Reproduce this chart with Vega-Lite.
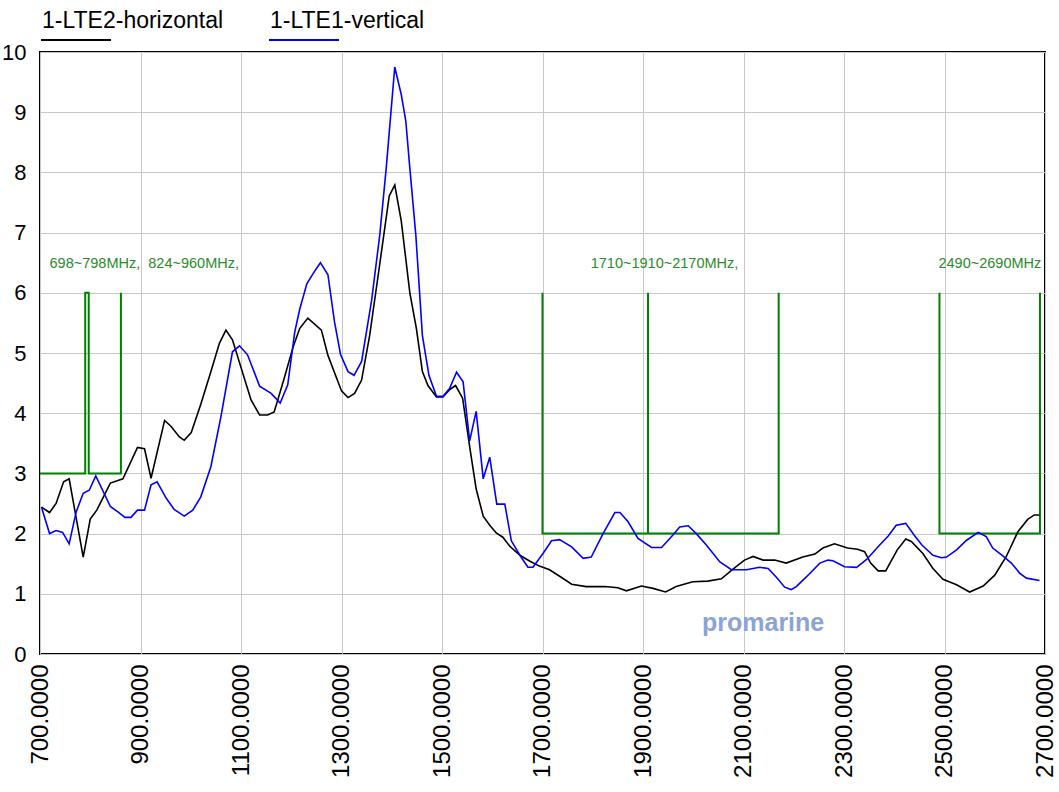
{
  "$schema": "https://vega.github.io/schema/vega-lite/v6.json",
  "width": 1005,
  "height": 602,
  "autosize": {"type": "none"},
  "padding": {"left": 40, "top": 52, "right": 14, "bottom": 138},
  "background": "white",
  "config": {
    "view": {"stroke": "#000000", "strokeWidth": 2},
    "font": "Liberation Sans",
    "axis": {"labelFont": "Liberation Sans", "labelColor": "#000000", "gridColor": "#c8c8c8", "gridWidth": 1, "ticks": false, "domain": false, "title": null, "labelFlush": false, "labelOverlap": false}
  },
  "datasets": {
    "bands": [
      {"seg": "a", "o": 1, "f": 700, "v": 3},
      {"seg": "a", "o": 2, "f": 790, "v": 3},
      {"seg": "a", "o": 3, "f": 790, "v": 6},
      {"seg": "a", "o": 4, "f": 797, "v": 6},
      {"seg": "a", "o": 5, "f": 797, "v": 3},
      {"seg": "a", "o": 6, "f": 861, "v": 3},
      {"seg": "a", "o": 7, "f": 861, "v": 6},
      {"seg": "b", "o": 1, "f": 1700, "v": 6},
      {"seg": "b", "o": 2, "f": 1700, "v": 2},
      {"seg": "b", "o": 3, "f": 2170, "v": 2},
      {"seg": "b", "o": 4, "f": 2170, "v": 6},
      {"seg": "c", "o": 1, "f": 1910, "v": 2},
      {"seg": "c", "o": 2, "f": 1910, "v": 6},
      {"seg": "d", "o": 1, "f": 2490, "v": 6},
      {"seg": "d", "o": 2, "f": 2490, "v": 2},
      {"seg": "d", "o": 3, "f": 2690, "v": 2},
      {"seg": "d", "o": 4, "f": 2690, "v": 6}
    ],
    "notes": [
      {"f": 719, "v": 6.48, "t": "698~798MHz,\u00a0 824~960MHz,"},
      {"f": 1796, "v": 6.48, "t": "1710~1910~2170MHz,"},
      {"f": 2488, "v": 6.48, "t": "2490~2690MHz"}
    ],
    "mark": [
      {"f": 2139, "v": 0.515, "t": "promarine"}
    ],
    "series": [
      {"s": "1-LTE2-horizontal", "f": 703, "v": 2.44},
      {"s": "1-LTE2-horizontal", "f": 719, "v": 2.35},
      {"s": "1-LTE2-horizontal", "f": 732, "v": 2.50},
      {"s": "1-LTE2-horizontal", "f": 747, "v": 2.86},
      {"s": "1-LTE2-horizontal", "f": 758, "v": 2.91},
      {"s": "1-LTE2-horizontal", "f": 786, "v": 1.61},
      {"s": "1-LTE2-horizontal", "f": 800, "v": 2.24},
      {"s": "1-LTE2-horizontal", "f": 813, "v": 2.39},
      {"s": "1-LTE2-horizontal", "f": 840, "v": 2.84},
      {"s": "1-LTE2-horizontal", "f": 865, "v": 2.91},
      {"s": "1-LTE2-horizontal", "f": 894, "v": 3.43},
      {"s": "1-LTE2-horizontal", "f": 908, "v": 3.41},
      {"s": "1-LTE2-horizontal", "f": 921, "v": 2.92},
      {"s": "1-LTE2-horizontal", "f": 948, "v": 3.88},
      {"s": "1-LTE2-horizontal", "f": 961, "v": 3.78},
      {"s": "1-LTE2-horizontal", "f": 977, "v": 3.61},
      {"s": "1-LTE2-horizontal", "f": 987, "v": 3.55},
      {"s": "1-LTE2-horizontal", "f": 1001, "v": 3.68},
      {"s": "1-LTE2-horizontal", "f": 1020, "v": 4.15},
      {"s": "1-LTE2-horizontal", "f": 1040, "v": 4.69},
      {"s": "1-LTE2-horizontal", "f": 1057, "v": 5.16},
      {"s": "1-LTE2-horizontal", "f": 1070, "v": 5.38},
      {"s": "1-LTE2-horizontal", "f": 1083, "v": 5.22},
      {"s": "1-LTE2-horizontal", "f": 1120, "v": 4.22},
      {"s": "1-LTE2-horizontal", "f": 1137, "v": 3.97},
      {"s": "1-LTE2-horizontal", "f": 1153, "v": 3.97},
      {"s": "1-LTE2-horizontal", "f": 1166, "v": 4.02},
      {"s": "1-LTE2-horizontal", "f": 1185, "v": 4.55},
      {"s": "1-LTE2-horizontal", "f": 1204, "v": 5.11},
      {"s": "1-LTE2-horizontal", "f": 1217, "v": 5.41},
      {"s": "1-LTE2-horizontal", "f": 1233, "v": 5.58},
      {"s": "1-LTE2-horizontal", "f": 1260, "v": 5.38},
      {"s": "1-LTE2-horizontal", "f": 1273, "v": 4.96},
      {"s": "1-LTE2-horizontal", "f": 1300, "v": 4.37},
      {"s": "1-LTE2-horizontal", "f": 1313, "v": 4.26},
      {"s": "1-LTE2-horizontal", "f": 1326, "v": 4.33},
      {"s": "1-LTE2-horizontal", "f": 1340, "v": 4.55},
      {"s": "1-LTE2-horizontal", "f": 1356, "v": 5.29},
      {"s": "1-LTE2-horizontal", "f": 1376, "v": 6.47},
      {"s": "1-LTE2-horizontal", "f": 1395, "v": 7.61},
      {"s": "1-LTE2-horizontal", "f": 1406, "v": 7.79},
      {"s": "1-LTE2-horizontal", "f": 1419, "v": 7.19},
      {"s": "1-LTE2-horizontal", "f": 1436, "v": 6.00},
      {"s": "1-LTE2-horizontal", "f": 1449, "v": 5.41},
      {"s": "1-LTE2-horizontal", "f": 1461, "v": 4.69},
      {"s": "1-LTE2-horizontal", "f": 1472, "v": 4.46},
      {"s": "1-LTE2-horizontal", "f": 1489, "v": 4.27},
      {"s": "1-LTE2-horizontal", "f": 1502, "v": 4.27},
      {"s": "1-LTE2-horizontal", "f": 1515, "v": 4.39},
      {"s": "1-LTE2-horizontal", "f": 1527, "v": 4.46},
      {"s": "1-LTE2-horizontal", "f": 1541, "v": 4.25},
      {"s": "1-LTE2-horizontal", "f": 1555, "v": 3.45},
      {"s": "1-LTE2-horizontal", "f": 1568, "v": 2.74},
      {"s": "1-LTE2-horizontal", "f": 1582, "v": 2.29},
      {"s": "1-LTE2-horizontal", "f": 1595, "v": 2.14},
      {"s": "1-LTE2-horizontal", "f": 1608, "v": 2.01},
      {"s": "1-LTE2-horizontal", "f": 1621, "v": 1.94},
      {"s": "1-LTE2-horizontal", "f": 1635, "v": 1.79},
      {"s": "1-LTE2-horizontal", "f": 1655, "v": 1.64},
      {"s": "1-LTE2-horizontal", "f": 1675, "v": 1.54},
      {"s": "1-LTE2-horizontal", "f": 1694, "v": 1.46},
      {"s": "1-LTE2-horizontal", "f": 1714, "v": 1.40},
      {"s": "1-LTE2-horizontal", "f": 1738, "v": 1.27},
      {"s": "1-LTE2-horizontal", "f": 1758, "v": 1.16},
      {"s": "1-LTE2-horizontal", "f": 1787, "v": 1.12},
      {"s": "1-LTE2-horizontal", "f": 1824, "v": 1.12},
      {"s": "1-LTE2-horizontal", "f": 1850, "v": 1.10},
      {"s": "1-LTE2-horizontal", "f": 1867, "v": 1.05},
      {"s": "1-LTE2-horizontal", "f": 1897, "v": 1.13},
      {"s": "1-LTE2-horizontal", "f": 1920, "v": 1.09},
      {"s": "1-LTE2-horizontal", "f": 1945, "v": 1.03},
      {"s": "1-LTE2-horizontal", "f": 1966, "v": 1.12},
      {"s": "1-LTE2-horizontal", "f": 1999, "v": 1.20},
      {"s": "1-LTE2-horizontal", "f": 2029, "v": 1.21},
      {"s": "1-LTE2-horizontal", "f": 2056, "v": 1.25},
      {"s": "1-LTE2-horizontal", "f": 2079, "v": 1.41},
      {"s": "1-LTE2-horizontal", "f": 2102, "v": 1.56},
      {"s": "1-LTE2-horizontal", "f": 2119, "v": 1.62},
      {"s": "1-LTE2-horizontal", "f": 2139, "v": 1.56},
      {"s": "1-LTE2-horizontal", "f": 2162, "v": 1.56},
      {"s": "1-LTE2-horizontal", "f": 2185, "v": 1.51},
      {"s": "1-LTE2-horizontal", "f": 2218, "v": 1.61},
      {"s": "1-LTE2-horizontal", "f": 2242, "v": 1.66},
      {"s": "1-LTE2-horizontal", "f": 2258, "v": 1.76},
      {"s": "1-LTE2-horizontal", "f": 2281, "v": 1.83},
      {"s": "1-LTE2-horizontal", "f": 2307, "v": 1.76},
      {"s": "1-LTE2-horizontal", "f": 2327, "v": 1.74},
      {"s": "1-LTE2-horizontal", "f": 2341, "v": 1.70},
      {"s": "1-LTE2-horizontal", "f": 2353, "v": 1.51},
      {"s": "1-LTE2-horizontal", "f": 2368, "v": 1.38},
      {"s": "1-LTE2-horizontal", "f": 2383, "v": 1.38},
      {"s": "1-LTE2-horizontal", "f": 2406, "v": 1.73},
      {"s": "1-LTE2-horizontal", "f": 2423, "v": 1.91},
      {"s": "1-LTE2-horizontal", "f": 2434, "v": 1.87},
      {"s": "1-LTE2-horizontal", "f": 2457, "v": 1.67},
      {"s": "1-LTE2-horizontal", "f": 2477, "v": 1.42},
      {"s": "1-LTE2-horizontal", "f": 2497, "v": 1.24},
      {"s": "1-LTE2-horizontal", "f": 2524, "v": 1.15},
      {"s": "1-LTE2-horizontal", "f": 2550, "v": 1.03},
      {"s": "1-LTE2-horizontal", "f": 2577, "v": 1.13},
      {"s": "1-LTE2-horizontal", "f": 2600, "v": 1.31},
      {"s": "1-LTE2-horizontal", "f": 2623, "v": 1.62},
      {"s": "1-LTE2-horizontal", "f": 2646, "v": 2.03},
      {"s": "1-LTE2-horizontal", "f": 2666, "v": 2.24},
      {"s": "1-LTE2-horizontal", "f": 2679, "v": 2.31},
      {"s": "1-LTE2-horizontal", "f": 2689, "v": 2.31},
      {"s": "1-LTE1-vertical", "f": 703, "v": 2.44},
      {"s": "1-LTE1-vertical", "f": 719, "v": 2.00},
      {"s": "1-LTE1-vertical", "f": 732, "v": 2.05},
      {"s": "1-LTE1-vertical", "f": 745, "v": 2.02},
      {"s": "1-LTE1-vertical", "f": 758, "v": 1.83},
      {"s": "1-LTE1-vertical", "f": 772, "v": 2.36},
      {"s": "1-LTE1-vertical", "f": 786, "v": 2.67},
      {"s": "1-LTE1-vertical", "f": 798, "v": 2.72},
      {"s": "1-LTE1-vertical", "f": 811, "v": 2.96},
      {"s": "1-LTE1-vertical", "f": 840, "v": 2.45},
      {"s": "1-LTE1-vertical", "f": 855, "v": 2.36},
      {"s": "1-LTE1-vertical", "f": 869, "v": 2.27},
      {"s": "1-LTE1-vertical", "f": 881, "v": 2.27},
      {"s": "1-LTE1-vertical", "f": 894, "v": 2.39},
      {"s": "1-LTE1-vertical", "f": 908, "v": 2.39},
      {"s": "1-LTE1-vertical", "f": 921, "v": 2.81},
      {"s": "1-LTE1-vertical", "f": 933, "v": 2.86},
      {"s": "1-LTE1-vertical", "f": 951, "v": 2.59},
      {"s": "1-LTE1-vertical", "f": 967, "v": 2.40},
      {"s": "1-LTE1-vertical", "f": 987, "v": 2.29},
      {"s": "1-LTE1-vertical", "f": 1004, "v": 2.39},
      {"s": "1-LTE1-vertical", "f": 1020, "v": 2.61},
      {"s": "1-LTE1-vertical", "f": 1040, "v": 3.11},
      {"s": "1-LTE1-vertical", "f": 1060, "v": 3.94},
      {"s": "1-LTE1-vertical", "f": 1083, "v": 5.02},
      {"s": "1-LTE1-vertical", "f": 1097, "v": 5.12},
      {"s": "1-LTE1-vertical", "f": 1113, "v": 4.97},
      {"s": "1-LTE1-vertical", "f": 1137, "v": 4.45},
      {"s": "1-LTE1-vertical", "f": 1160, "v": 4.33},
      {"s": "1-LTE1-vertical", "f": 1178, "v": 4.17},
      {"s": "1-LTE1-vertical", "f": 1193, "v": 4.47},
      {"s": "1-LTE1-vertical", "f": 1207, "v": 5.35},
      {"s": "1-LTE1-vertical", "f": 1217, "v": 5.73},
      {"s": "1-LTE1-vertical", "f": 1231, "v": 6.15},
      {"s": "1-LTE1-vertical", "f": 1245, "v": 6.34},
      {"s": "1-LTE1-vertical", "f": 1258, "v": 6.50},
      {"s": "1-LTE1-vertical", "f": 1273, "v": 6.30},
      {"s": "1-LTE1-vertical", "f": 1286, "v": 5.52},
      {"s": "1-LTE1-vertical", "f": 1298, "v": 4.98},
      {"s": "1-LTE1-vertical", "f": 1313, "v": 4.69},
      {"s": "1-LTE1-vertical", "f": 1325, "v": 4.63},
      {"s": "1-LTE1-vertical", "f": 1340, "v": 4.86},
      {"s": "1-LTE1-vertical", "f": 1360, "v": 5.88},
      {"s": "1-LTE1-vertical", "f": 1376, "v": 6.95},
      {"s": "1-LTE1-vertical", "f": 1389, "v": 8.07},
      {"s": "1-LTE1-vertical", "f": 1398, "v": 8.96},
      {"s": "1-LTE1-vertical", "f": 1406, "v": 9.75},
      {"s": "1-LTE1-vertical", "f": 1419, "v": 9.29},
      {"s": "1-LTE1-vertical", "f": 1428, "v": 8.85},
      {"s": "1-LTE1-vertical", "f": 1436, "v": 8.07},
      {"s": "1-LTE1-vertical", "f": 1448, "v": 6.95},
      {"s": "1-LTE1-vertical", "f": 1461, "v": 5.29},
      {"s": "1-LTE1-vertical", "f": 1474, "v": 4.63},
      {"s": "1-LTE1-vertical", "f": 1489, "v": 4.28},
      {"s": "1-LTE1-vertical", "f": 1502, "v": 4.28},
      {"s": "1-LTE1-vertical", "f": 1515, "v": 4.41},
      {"s": "1-LTE1-vertical", "f": 1529, "v": 4.68},
      {"s": "1-LTE1-vertical", "f": 1542, "v": 4.52},
      {"s": "1-LTE1-vertical", "f": 1555, "v": 3.54},
      {"s": "1-LTE1-vertical", "f": 1568, "v": 4.03},
      {"s": "1-LTE1-vertical", "f": 1582, "v": 2.91},
      {"s": "1-LTE1-vertical", "f": 1595, "v": 3.27},
      {"s": "1-LTE1-vertical", "f": 1609, "v": 2.49},
      {"s": "1-LTE1-vertical", "f": 1625, "v": 2.49},
      {"s": "1-LTE1-vertical", "f": 1638, "v": 1.88},
      {"s": "1-LTE1-vertical", "f": 1655, "v": 1.64},
      {"s": "1-LTE1-vertical", "f": 1671, "v": 1.44},
      {"s": "1-LTE1-vertical", "f": 1681, "v": 1.44},
      {"s": "1-LTE1-vertical", "f": 1701, "v": 1.67},
      {"s": "1-LTE1-vertical", "f": 1718, "v": 1.88},
      {"s": "1-LTE1-vertical", "f": 1734, "v": 1.90},
      {"s": "1-LTE1-vertical", "f": 1758, "v": 1.78},
      {"s": "1-LTE1-vertical", "f": 1781, "v": 1.59},
      {"s": "1-LTE1-vertical", "f": 1797, "v": 1.61},
      {"s": "1-LTE1-vertical", "f": 1820, "v": 1.99},
      {"s": "1-LTE1-vertical", "f": 1844, "v": 2.35},
      {"s": "1-LTE1-vertical", "f": 1854, "v": 2.35},
      {"s": "1-LTE1-vertical", "f": 1870, "v": 2.20},
      {"s": "1-LTE1-vertical", "f": 1890, "v": 1.92},
      {"s": "1-LTE1-vertical", "f": 1917, "v": 1.77},
      {"s": "1-LTE1-vertical", "f": 1937, "v": 1.77},
      {"s": "1-LTE1-vertical", "f": 1960, "v": 1.98},
      {"s": "1-LTE1-vertical", "f": 1973, "v": 2.11},
      {"s": "1-LTE1-vertical", "f": 1990, "v": 2.13},
      {"s": "1-LTE1-vertical", "f": 2006, "v": 2.00},
      {"s": "1-LTE1-vertical", "f": 2026, "v": 1.81},
      {"s": "1-LTE1-vertical", "f": 2053, "v": 1.53},
      {"s": "1-LTE1-vertical", "f": 2076, "v": 1.40},
      {"s": "1-LTE1-vertical", "f": 2106, "v": 1.40},
      {"s": "1-LTE1-vertical", "f": 2132, "v": 1.44},
      {"s": "1-LTE1-vertical", "f": 2149, "v": 1.42},
      {"s": "1-LTE1-vertical", "f": 2165, "v": 1.28},
      {"s": "1-LTE1-vertical", "f": 2182, "v": 1.11},
      {"s": "1-LTE1-vertical", "f": 2195, "v": 1.07},
      {"s": "1-LTE1-vertical", "f": 2205, "v": 1.12},
      {"s": "1-LTE1-vertical", "f": 2225, "v": 1.28},
      {"s": "1-LTE1-vertical", "f": 2252, "v": 1.51},
      {"s": "1-LTE1-vertical", "f": 2268, "v": 1.56},
      {"s": "1-LTE1-vertical", "f": 2278, "v": 1.55},
      {"s": "1-LTE1-vertical", "f": 2301, "v": 1.45},
      {"s": "1-LTE1-vertical", "f": 2325, "v": 1.44},
      {"s": "1-LTE1-vertical", "f": 2345, "v": 1.57},
      {"s": "1-LTE1-vertical", "f": 2371, "v": 1.81},
      {"s": "1-LTE1-vertical", "f": 2388, "v": 1.96},
      {"s": "1-LTE1-vertical", "f": 2404, "v": 2.14},
      {"s": "1-LTE1-vertical", "f": 2423, "v": 2.17},
      {"s": "1-LTE1-vertical", "f": 2439, "v": 1.98},
      {"s": "1-LTE1-vertical", "f": 2455, "v": 1.81},
      {"s": "1-LTE1-vertical", "f": 2477, "v": 1.64},
      {"s": "1-LTE1-vertical", "f": 2494, "v": 1.60},
      {"s": "1-LTE1-vertical", "f": 2504, "v": 1.61},
      {"s": "1-LTE1-vertical", "f": 2524, "v": 1.73},
      {"s": "1-LTE1-vertical", "f": 2544, "v": 1.89},
      {"s": "1-LTE1-vertical", "f": 2567, "v": 2.02},
      {"s": "1-LTE1-vertical", "f": 2583, "v": 1.95},
      {"s": "1-LTE1-vertical", "f": 2596, "v": 1.76},
      {"s": "1-LTE1-vertical", "f": 2616, "v": 1.63},
      {"s": "1-LTE1-vertical", "f": 2633, "v": 1.51},
      {"s": "1-LTE1-vertical", "f": 2650, "v": 1.34},
      {"s": "1-LTE1-vertical", "f": 2663, "v": 1.26},
      {"s": "1-LTE1-vertical", "f": 2689, "v": 1.22}
    ]
  },
  "layer": [
    {
      "data": {"name": "bands"},
      "mark": {"type": "line", "color": "#008000", "strokeWidth": 2},
      "encoding": {
        "x": {"field": "f", "type": "quantitative", "scale": {"domain": [700, 2700], "nice": false, "zero": false},
          "axis": {"values": [700, 900, 1100, 1300, 1500, 1700, 1900, 2100, 2300, 2500, 2700], "format": ".4f", "labelAngle": 270, "labelFontSize": 24, "labelPadding": 10, "grid": true}},
        "y": {"field": "v", "type": "quantitative", "scale": {"domain": [0, 10], "nice": false},
          "axis": {"values": [0, 1, 2, 3, 4, 5, 6, 7, 8, 9, 10], "format": "d", "labelFontSize": 22, "labelPadding": 14, "grid": true}},
        "detail": {"field": "seg"},
        "order": {"field": "o", "type": "quantitative"}
      }
    },
    {
      "data": {"name": "series"},
      "mark": {"type": "line", "strokeWidth": 1.6},
      "encoding": {
        "x": {"field": "f", "type": "quantitative"},
        "y": {"field": "v", "type": "quantitative"},
        "color": {"field": "s", "type": "nominal",
          "scale": {"domain": ["1-LTE2-horizontal", "1-LTE1-vertical"], "range": ["#000000", "#0000ff"]},
          "legend": {"orient": "none", "legendX": 0, "legendY": -60, "direction": "horizontal", "title": null,
            "symbolType": "M-1,0.34L1,0.34", "symbolSize": 4900, "symbolStrokeWidth": 2, "labelOffset": -70,
            "labelBaseline": "alphabetic", "labelFontSize": 23, "labelLimit": 400, "columnPadding": 41, "padding": 0, "labelColor": "#000000", "labelFont": "Liberation Sans"}}
      }
    },
    {
      "data": {"name": "notes"},
      "mark": {"type": "text", "align": "left", "baseline": "middle", "fontSize": 14.5, "color": "#2a8c2a", "font": "Liberation Sans"},
      "encoding": {
        "x": {"field": "f", "type": "quantitative"},
        "y": {"field": "v", "type": "quantitative"},
        "text": {"field": "t"}
      }
    },
    {
      "data": {"name": "mark"},
      "mark": {"type": "text", "align": "center", "baseline": "middle", "fontSize": 25, "fontWeight": "bold", "color": "#8da3d6", "font": "Liberation Sans"},
      "encoding": {
        "x": {"field": "f", "type": "quantitative"},
        "y": {"field": "v", "type": "quantitative"},
        "text": {"field": "t"}
      }
    }
  ]
}
